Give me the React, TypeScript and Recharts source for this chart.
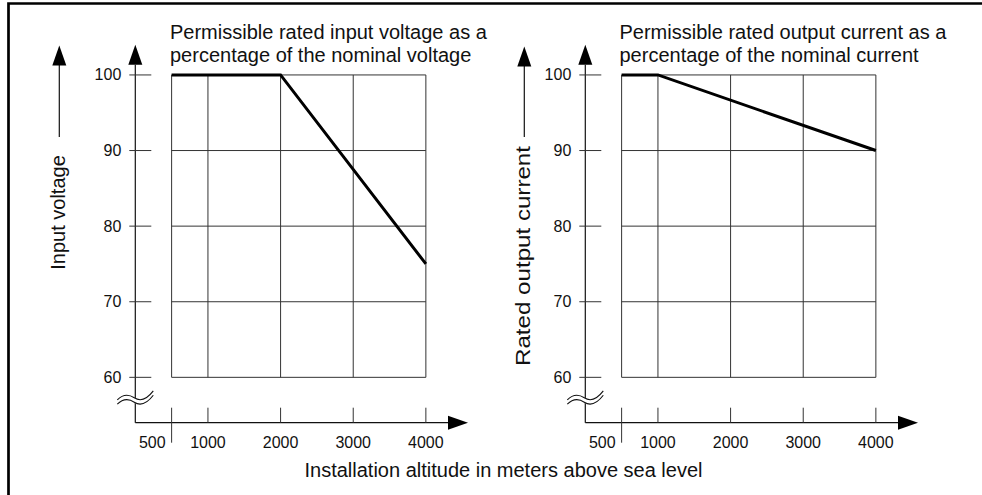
import React from 'react';
import { LineChart, Line, XAxis, YAxis, ReferenceLine, ReferenceDot } from 'recharts';

// altitude in m, permissible rating in % of nominal
const altitudeTicks = [500, 1000, 2000, 3000, 4000];
const percentTicks = [60, 70, 80, 90, 100];

const voltageAltitude = [500, 2000, 4000];
const voltagePercent = [100, 100, 75];

const currentAltitude = [500, 1000, 4000];
const currentPercent = [100, 100, 90];

const FONT = '"Liberation Sans", Arial, Helvetica, sans-serif';
const INK = '#111';
const GRID = '#333';

const X_DOMAIN: [number, number] = [0, 4580];
const Y_DOMAIN: [number, number] = [54, 104];

function arrowShape(props: any) {
  const { x1, y1, x2, y2 } = props;
  const len = Math.hypot(x2 - x1, y2 - y1) || 1;
  const ux = (x2 - x1) / len;
  const uy = (y2 - y1) / len;
  const bx = x2 - ux * 20;
  const by = y2 - uy * 20;
  const px = -uy * 7;
  const py = ux * 7;
  return (
    <g>
      <line x1={x1} y1={y1} x2={bx} y2={by} stroke={INK} strokeWidth={1.2} />
      <polygon points={`${x2},${y2} ${bx + px},${by + py} ${bx - px},${by - py}`} fill="#000" />
    </g>
  );
}

function breakMark(props: any) {
  const { cx, cy } = props;
  const wave = (dy: number) => `M ${cx - 18} ${cy + 2 + dy} Q ${cx - 10} ${cy - 6 + dy} ${cx - 1} ${cy + dy} T ${cx + 18} ${cy - 7 + dy}`;
  return (
    <g>
      <path d={wave(0)} stroke="#fff" strokeWidth={5} fill="none" />
      <path d={wave(-2.2)} stroke={INK} strokeWidth={1.1} fill="none" />
      <path d={wave(2.2)} stroke={INK} strokeWidth={1.1} fill="none" />
    </g>
  );
}

function YTick(props: any) {
  const { x, y, payload } = props;
  return (
    <g>
      <line x1={x - 6} x2={x + 16} y1={y} y2={y} stroke={GRID} strokeWidth={1} />
      <text x={x - 14} y={y + 5.5} textAnchor="end" fontSize={16} fill={INK} fontFamily={FONT}>
        {payload.value}
      </text>
    </g>
  );
}

function XTick(props: any) {
  const { x, y, payload } = props;
  const first = payload.value === altitudeTicks[0];
  return (
    <g>
      <line x1={x} x2={x} y1={y - 15} y2={first ? y + 20 : y} stroke={GRID} strokeWidth={1} />
      <text
        x={first ? x - 6 : x}
        y={y + 25.5}
        textAnchor={first ? 'end' : 'middle'}
        fontSize={16}
        fill={INK}
        fontFamily={FONT}
      >
        {payload.value}
      </text>
    </g>
  );
}

function DeratingChart({ altitude, percent }: { altitude: number[]; percent: number[] }) {
  const data = altitude.map((a, i) => ({ alt: a, pct: percent[i] }));
  const xMin = altitudeTicks[0];
  const xMax = altitudeTicks[altitudeTicks.length - 1];
  const yMin = percentTicks[0];
  const yMax = percentTicks[percentTicks.length - 1];

  return (
    <LineChart width={480} height={495} data={data} margin={{ top: 44.7, right: 12, bottom: 22.3, left: 95.3 }}>
      <XAxis
        type="number"
        dataKey="alt"
        domain={X_DOMAIN}
        ticks={altitudeTicks}
        allowDataOverflow
        interval={0}
        axisLine={false}
        tickLine={false}
        tickSize={0}
        tickMargin={0}
        height={50}
        tick={<XTick />}
      />
      <YAxis
        type="number"
        domain={Y_DOMAIN}
        ticks={percentTicks}
        allowDataOverflow
        interval={0}
        axisLine={false}
        tickLine={false}
        tickSize={0}
        tickMargin={0}
        width={40}
        tick={<YTick />}
      />
      {altitudeTicks.map((a) => (
        <ReferenceLine key={'v' + a} segment={[{ x: a, y: yMin }, { x: a, y: yMax }]} stroke={GRID} strokeWidth={1} />
      ))}
      {percentTicks.map((p) => (
        <ReferenceLine key={'h' + p} segment={[{ x: xMin, y: p }, { x: xMax, y: p }]} stroke={GRID} strokeWidth={1} />
      ))}
      <ReferenceLine segment={[{ x: X_DOMAIN[0], y: Y_DOMAIN[0] }, { x: X_DOMAIN[1], y: Y_DOMAIN[0] }]} shape={arrowShape} />
      <ReferenceLine segment={[{ x: X_DOMAIN[0], y: Y_DOMAIN[0] }, { x: X_DOMAIN[0], y: Y_DOMAIN[1] }]} shape={arrowShape} />
      <ReferenceDot x={X_DOMAIN[0]} y={57} r={1} shape={breakMark} />
      <Line
        type="linear"
        dataKey="pct"
        stroke="#000"
        strokeWidth={3}
        dot={false}
        isAnimationActive={false}
      />
    </LineChart>
  );
}

export default function App() {
  return (
    <div
      style={{
        position: 'absolute',
        left: 0,
        top: 0,
        width: 982,
        height: 495,
        overflow: 'hidden',
        background: '#fff',
      }}
    >
      <div style={{ position: 'absolute', left: 0, top: 0 }}>
        <DeratingChart altitude={voltageAltitude} percent={voltagePercent} />
      </div>
      <div style={{ position: 'absolute', left: 449.5, top: 0 }}>
        <DeratingChart altitude={currentAltitude} percent={currentPercent} />
      </div>
      <svg
        width={982}
        height={495}
        style={{ position: 'absolute', left: 0, top: 0, pointerEvents: 'none' }}
        fontFamily={FONT}
        fill={INK}
      >
        <path d="M 8.5 495 V 3.5 H 982" stroke="#000" strokeWidth={2.7} fill="none" />
        <text x={170} y={38.5} fontSize={20}>Permissible rated input voltage as a</text>
        <text x={170} y={61.5} fontSize={20}>percentage of the nominal voltage</text>
        <text x={619.5} y={38.5} fontSize={20}>Permissible rated output current as a</text>
        <text x={619.5} y={62} fontSize={20}>percentage of the nominal current</text>
        <text x={503.5} y={477} fontSize={20} textAnchor="middle">
          Installation altitude in meters above sea level
        </text>

        <line x1={59.3} y1={137} x2={59.3} y2={65} stroke={INK} strokeWidth={1.2} />
        <polygon points="59.3,45.5 52.3,65.5 66.3,65.5" fill="#000" />
        <text x={65} y={212.5} fontSize={20} textAnchor="middle" transform="rotate(-90 65 212.5)">
          Input voltage
        </text>

        <line x1={524.3} y1={137} x2={524.3} y2={66} stroke={INK} strokeWidth={1.2} />
        <polygon points="524.3,46.5 517.3,66.5 531.3,66.5" fill="#000" />
        <text
          x={530}
          y={256}
          fontSize={20}
          textAnchor="middle"
          textLength={220}
          lengthAdjust="spacingAndGlyphs"
          transform="rotate(-90 530 256)"
        >
          Rated output current
        </text>
      </svg>
    </div>
  );
}
